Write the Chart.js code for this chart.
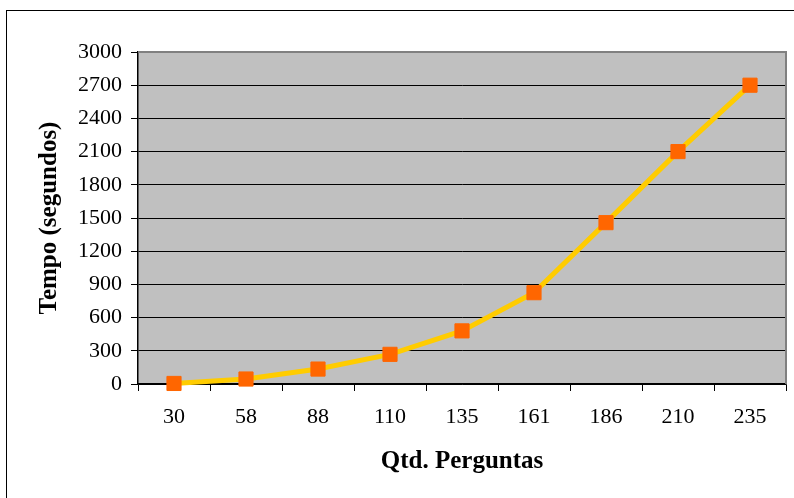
<!DOCTYPE html>
<html>
<head>
<meta charset="utf-8">
<script src="https://cdn.jsdelivr.net/npm/chart.js@4/dist/chart.umd.min.js"></script>
<style>
  html, body { margin: 0; padding: 0; background: #fff; overflow: hidden; }
  #frame { position: absolute; left: 6px; top: 10px; width: 900px; height: 600px; border: 1px solid #000; }
  #c { position: absolute; left: 0; top: 0; }
</style>
</head>
<body>
<div id="frame"></div>
<canvas id="c" width="797" height="498"></canvas>
<script>
// Number of questions per test run
const perguntas = ['30', '58', '88', '110', '135', '161', '186', '210', '235'];
// Processing time in seconds
const tempo = [5, 45, 135, 268, 480, 825, 1458, 2100, 2700];
// Value axis range
const yMin = 0;
const yMax = 3000;
const yStep = 300;

// Grey plot background with a grey frame on its top and right sides
const plotArea = {
  id: 'plotArea',
  beforeDraw(chart) {
    const { ctx, chartArea: a } = chart;
    ctx.save();
    ctx.fillStyle = '#C0C0C0';
    ctx.fillRect(a.left, a.top, a.right - a.left, a.bottom - a.top);
    ctx.restore();
  },
  beforeDatasetsDraw(chart) {
    const { ctx, chartArea: a } = chart;
    ctx.save();
    ctx.strokeStyle = '#808080';
    ctx.lineWidth = 2;
    ctx.beginPath();
    ctx.moveTo(a.left, a.top);
    ctx.lineTo(a.right, a.top);
    ctx.lineTo(a.right, a.bottom);
    ctx.stroke();
    ctx.restore();
  }
};

new Chart(document.getElementById('c'), {
  type: 'line',
  data: {
    labels: perguntas,
    datasets: [{
      data: tempo,
      borderColor: '#FFCC00',
      borderWidth: 5,
      tension: 0,
      pointStyle: 'rect',
      pointRadius: 10,
      pointBackgroundColor: '#FF6600',
      pointBorderColor: '#FF6600',
      pointBorderWidth: 1,
      clip: false
    }]
  },
  options: {
    responsive: false,
    devicePixelRatio: 1,
    animation: false,
    layout: { padding: { left: 0, right: 0, top: 52, bottom: 0 } },
    plugins: { legend: { display: false }, tooltip: { enabled: false } },
    scales: {
      x: {
        type: 'category',
        offset: true,
        grid: { offset: true, drawOnChartArea: false, drawTicks: true, tickLength: 7, color: '#000', lineWidth: 1 },
        border: { display: true, color: '#000', width: 1.5 },
        ticks: { color: '#000', padding: 13, font: { family: 'Liberation Serif', size: 22 }, maxRotation: 0 },
        title: { display: true, text: 'Qtd. Perguntas', color: '#000',
                 font: { family: 'Liberation Serif', size: 25, weight: 'bold' },
                 padding: { top: 0, bottom: 21 } },
        afterFit(scale) { scale.height = 114; }
      },
      y: {
        min: yMin,
        max: yMax,
        grid: { color: '#000', lineWidth: 1, drawTicks: true, tickLength: 7, tickColor: '#000' },
        border: { display: true, color: '#000', width: 1.5 },
        ticks: { stepSize: yStep, color: '#000', padding: 9, font: { family: 'Liberation Serif', size: 22 },
                 callback: (v) => String(v) },
        title: { display: true, text: 'Tempo (segundos)', color: '#000',
                 font: { family: 'Liberation Serif', size: 25, weight: 'bold' },
                 padding: { top: 35, bottom: 0 } },
        afterFit(scale) { scale.width = 138; }
      }
    }
  },
  plugins: [plotArea]
});
</script>
</body>
</html>
